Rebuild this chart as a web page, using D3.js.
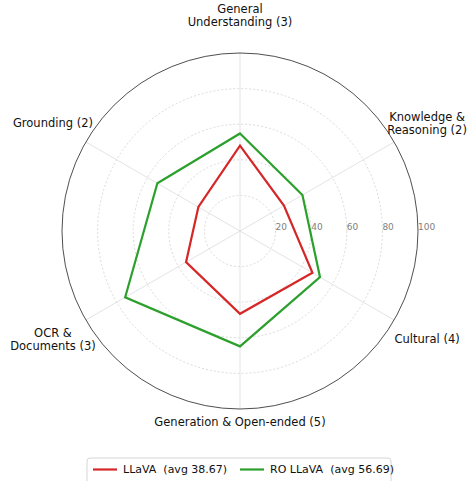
<!DOCTYPE html>
<html>
<head>
<meta charset="utf-8">
<script src="https://cdnjs.cloudflare.com/ajax/libs/d3/7.8.5/d3.min.js"></script>
<style>
  body { margin: 0; background: #fff; }
  svg { font-family: "DejaVu Sans", sans-serif; }
</style>
</head>
<body>
<div class="viz"></div>
<script>
var categories = [
  ['General', 'Understanding (3)'],
  ['Knowledge &', 'Reasoning (2)'],
  ['Cultural (4)'],
  ['Generation & Open-ended (5)'],
  ['OCR &', 'Documents (3)'],
  ['Grounding (2)']
]
var llava = [48, 28.5, 47, 46.5, 35, 27]
var roLlava = [54.8, 40.5, 51.9, 64.8, 74.5, 53.6]
var ticks = [20, 40, 60, 80, 100]
var seriesNames = ['LLaVA  (avg 38.67)', 'RO LLaVA  (avg 56.69)']
var seriesColors = ['#d62728', '#2ca02c']

var width = 468,
    height = 481,
    cx = 240,
    cy = 231,
    R = 178;

var svg = d3.select('.viz').append('svg')
  .attr('width', width)
  .attr('height', height)

var g = svg.append('g')
  .attr('transform', 'translate(' + cx + ',' + cy + ')')

var r = d3.scaleLinear().domain([0, 100]).range([0, R])
var angle = d3.scaleLinear().domain([0, categories.length]).range([0, 2 * Math.PI])

// rings
g.selectAll('.ring')
  .data(ticks.slice(0, -1))
  .enter()
  .append('circle')
  .attr('r', function(d){ return r(d) })
  .attr('fill', 'none')
  .attr('stroke', '#d0d0d0')
  .attr('stroke-width', 0.8)
  .attr('stroke-dasharray', '2,2')

// spokes
g.selectAll('.spoke')
  .data(categories)
  .enter()
  .append('line')
  .attr('x1', 0)
  .attr('y1', 0)
  .attr('x2', function(d, i){ return r(100) * Math.sin(angle(i)) })
  .attr('y2', function(d, i){ return -r(100) * Math.cos(angle(i)) })
  .attr('stroke', '#dcdcdc')
  .attr('stroke-width', 0.8)

// outer circle
g.append('circle')
  .attr('r', r(100))
  .attr('fill', 'none')
  .attr('stroke', '#222')
  .attr('stroke-width', 0.8)

// radial tick labels
g.selectAll('.tick')
  .data(ticks)
  .enter()
  .append('text')
  .attr('x', function(d){ return r(d) })
  .attr('y', -4)
  .attr('dy', '0.35em')
  .attr('font-size', 9)
  .attr('fill', '#808080')
  .text(function(d){ return d })

// category labels
var labelR = [216, 216, 216, 191, 216, 216]
var lineH = 13
var labels = g.selectAll('.label')
  .data(categories)
  .enter()
  .append('text')
  .attr('text-anchor', 'middle')
  .attr('font-size', 11.5)
  .attr('fill', '#111')
  .attr('transform', function(d, i){
    var a = angle(i)
    var x = labelR[i] * Math.sin(a),
        y = -labelR[i] * Math.cos(a)
    return 'translate(' + x + ',' + y + ')'
  })

labels.selectAll('tspan')
  .data(function(d){ return d.map(function(t, j){ return {t: t, j: j, n: d.length} }) })
  .enter()
  .append('tspan')
  .attr('x', 0)
  .attr('y', function(d){ return (d.j - (d.n - 1) / 2) * lineH })
  .attr('dy', '0.35em')
  .text(function(d){ return d.t })

// series
var line = d3.lineRadial()
  .angle(function(d, i){ return angle(i) })
  .radius(function(d){ return r(d) })
  .curve(d3.curveLinearClosed)

g.selectAll('.series')
  .data([llava, roLlava])
  .enter()
  .append('path')
  .attr('d', line)
  .attr('fill', 'none')
  .attr('stroke', function(d, i){ return seriesColors[i] })
  .attr('stroke-width', 2.2)
  .attr('stroke-linejoin', 'miter')

// legend
var legend = svg.append('g')
  .attr('transform', 'translate(87,458)')

legend.append('rect')
  .attr('width', 304)
  .attr('height', 28)
  .attr('rx', 3)
  .attr('fill', '#fff')
  .attr('stroke', '#cccccc')
  .attr('stroke-width', 0.8)

var legendX = [6, 153]
var items = legend.selectAll('.item')
  .data(seriesNames)
  .enter()
  .append('g')
  .attr('transform', function(d, i){ return 'translate(' + legendX[i] + ',11.5)' })

items.append('line')
  .attr('x1', 0)
  .attr('x2', 24)
  .attr('stroke', function(d, i){ return seriesColors[i] })
  .attr('stroke-width', 2.2)

items.append('text')
  .attr('x', 30)
  .attr('dy', '0.35em')
  .attr('font-size', 11)
  .attr('fill', '#111')
  .style('white-space', 'pre')
  .text(function(d){ return d })
</script>
</body>
</html>
